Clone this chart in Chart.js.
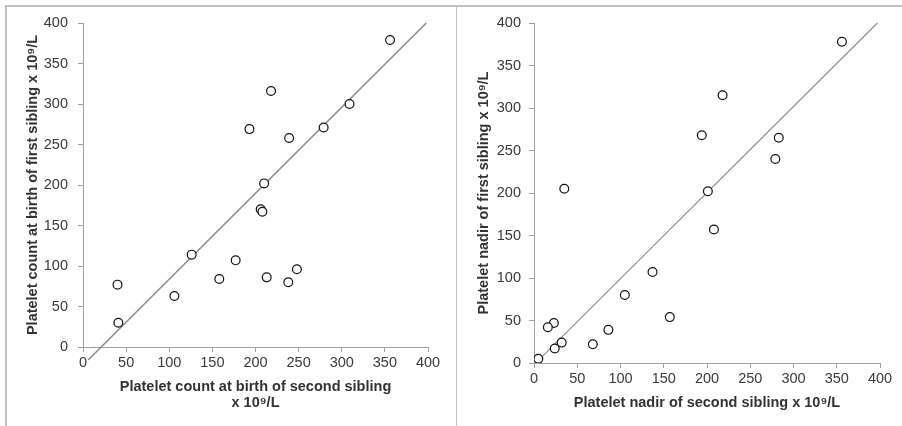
<!DOCTYPE html>
<html>
<head>
<script src="https://cdn.jsdelivr.net/npm/chart.js@4.4.0/dist/chart.umd.min.js"></script>
<style>
  body { margin: 0; background: #fff; }
  #wrap { position: relative; width: 902px; height: 426px; overflow: hidden; }
  #c1 { position: absolute; left: 0; top: 0; }
  #c2 { position: absolute; left: 457px; top: 0; }
  .ln { position: absolute; background: #c0c0c0; }
</style>
</head>
<body>
<div id="wrap">
  <canvas id="c1" width="456" height="426" style="width:456px;height:426px"></canvas>
  <canvas id="c2" width="445" height="426" style="width:445px;height:426px"></canvas>
  <div class="ln" style="left:5px;top:5px;width:897px;height:2px"></div>
  <div class="ln" style="left:5px;top:5px;width:1.5px;height:421px"></div>
  <div class="ln" style="left:455.5px;top:5px;width:1.5px;height:421px"></div>
</div>
<script>
// left panel: platelet count at birth
var birthSecond = [356, 218, 309, 193, 279, 239, 210, 206, 208, 126, 177, 158, 213, 238, 248, 40, 106, 41];
var birthFirst  = [379, 316, 300, 269, 271, 258, 202, 170, 167, 114, 107, 84, 86, 80, 96, 77, 63, 30];
var birthFitX = [6, 398];
var birthFitY = [-16, 400];

// right panel: platelet nadir
var nadirSecond = [356, 218, 194, 283, 279, 35, 201, 208, 137, 105, 157, 23, 16, 86, 32, 24, 68, 5];
var nadirFirst  = [378, 315, 268, 265, 240, 205, 202, 157, 107, 80, 54, 47, 42, 39, 24, 17, 22, 5];
var nadirFitX = [3, 397];
var nadirFitY = [1, 400];

var FONT = "'Liberation Sans', Arial, sans-serif";

function pts(xs, ys) {
  return xs.map(function (x, i) { return { x: x, y: ys[i] }; });
}

function makeChart(id, xs, ys, fx, fy, o) {
  var axisCol = "#a0a0a0";
  function axis(title, pad, fit) {
    return {
      type: "linear", min: 0, max: 400,
      ticks: { stepSize: 50, color: "#3a3a3a", font: { family: FONT, size: 14.5 },
               padding: pad, maxRotation: 0, autoSkip: false },
      grid: { drawOnChartArea: false, tickLength: 5, color: axisCol },
      border: { color: axisCol, width: 1 },
      title: { display: true, text: title, color: "#333",
               font: { family: FONT, size: 14.5, weight: "bold", lineHeight: 1.12 } },
      afterFit: fit
    };
  }
  var xAx = axis(o.xTitle, 2.5, function (s) { s.height = o.xH; });
  xAx.title.padding = { top: 0, bottom: 15 };
  var yAx = axis(o.yTitle, o.yTickPad, function (s) { s.width = o.yW; });
  yAx.title.padding = { top: o.yTitlePad, bottom: 0 };

  new Chart(id, {
    type: "scatter",
    data: {
      datasets: [
        {
          data: pts(xs, ys),
          pointRadius: 4.4, pointHoverRadius: 4.4,
          backgroundColor: "#fff", borderColor: "#111", borderWidth: 1.2,
          order: 0
        },
        {
          type: "line",
          data: pts(fx, fy),
          showLine: true, pointRadius: 0,
          borderColor: "#8c8c8c", borderWidth: o.lineW,
          clip: false, order: 1
        }
      ]
    },
    options: {
      responsive: false,
      animation: false,
      plugins: { legend: { display: false }, tooltip: { enabled: false } },
      layout: { padding: { top: 23, right: o.padR, left: 0, bottom: 0 } },
      scales: { x: xAx, y: yAx }
    }
  });
}

makeChart("c1", birthSecond, birthFirst, birthFitX, birthFitY, {
  xTitle: ["Platelet count at birth of second sibling", "x 10\u2079/L"],
  yTitle: "Platelet count at birth of first sibling x 10\u2079/L",
  xH: 79, yW: 83, padR: 28, yTickPad: 10, yTitlePad: 25, lineW: 1.6
});

makeChart("c2", nadirSecond, nadirFirst, nadirFitX, nadirFitY, {
  xTitle: "Platelet nadir of second sibling x 10\u2079/L",
  yTitle: "Platelet nadir of first sibling x 10\u2079/L",
  xH: 63, yW: 77, padR: 22, yTickPad: 8, yTitlePad: 19, lineW: 1.1
});
</script>
</body>
</html>
